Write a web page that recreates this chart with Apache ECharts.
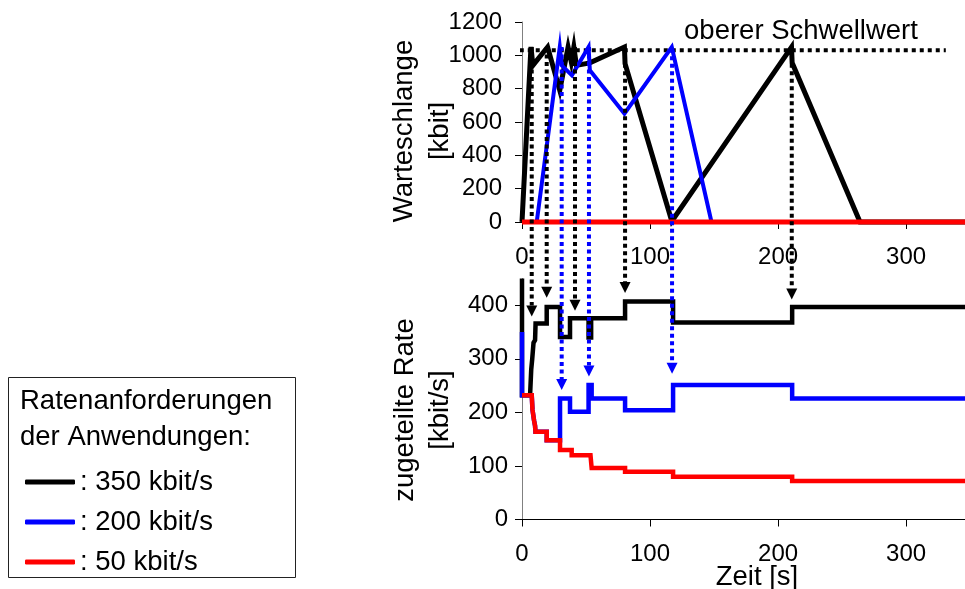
<!DOCTYPE html>
<html>
<head>
<meta charset="utf-8">
<title>Warteschlange und zugeteilte Rate</title>
<script src="https://cdn.jsdelivr.net/npm/echarts@6/dist/echarts.min.js"></script>
<style>
  html, body { margin: 0; padding: 0; background: #fff; }
  #main { width: 965px; height: 589px; }
</style>
</head>
<body>
<div id="main"></div>
<script>
var FONT = '"Liberation Sans", Arial, sans-serif';

// Legende / Farben
var seriesNames = [': 350 kbit/s', ': 200 kbit/s', ': 50 kbit/s'];
var seriesColors = ['#000000', '#0000ff', '#ff0000'];

// Warteschlange [kbit], Punkte [Zeit s, Wert]
var queue350 = [[0, 0], [7, 1050], [8.5, 940], [20, 1050], [29.5, 790], [36, 1050], [38.5, 960], [40.5, 1050],
  [42.5, 940], [53, 955], [80, 1050], [80.5, 950], [117, 5], [210.5, 1050], [211, 955], [264, 0], [346, 0]];
var queue200 = [[11.5, 0], [29.5, 1050], [31, 940], [39, 880], [52, 1050], [53, 910], [80, 650], [117, 1050], [148, 0]];
var queue50 = [[0, 0], [346, 0]];
var threshold = [[-8, 1030], [331, 1030]];

// zugeteilte Rate [kbit/s]
var rate350 = [[0, 450], [0, 232], [6.3, 232], [7.2, 280], [8, 300], [9, 330], [10.2, 335], [10.6, 366], [19.3, 366],
  [19.3, 397], [29.7, 397], [29.7, 341], [37.5, 341], [37.5, 376], [52, 376], [52, 340], [54, 340], [54, 376],
  [80.5, 376], [80.5, 407], [118, 407], [118, 368], [211, 368], [211, 397], [346, 397]];
var rate200 = [[0, 350], [0, 232], [7.6, 232], [8.2, 205], [9.4, 185], [10.2, 175], [10.5, 164], [19.3, 164],
  [19.3, 148], [29.7, 148], [29.7, 226], [37.5, 226], [37.5, 201], [52, 201], [52, 251], [54.4, 251], [54.4, 226],
  [80.5, 226], [80.5, 204], [118, 204], [118, 251], [211, 251], [211, 226], [346, 226]];
var rate50 = [[0, 232], [7.6, 232], [8.2, 205], [9.4, 185], [10.2, 175], [10.5, 164], [19.3, 164], [19.3, 148],
  [29.7, 148], [29.7, 130], [38.8, 130], [38.8, 120], [53.5, 120], [54.4, 96], [80.5, 96], [80.5, 89], [118, 89],
  [118, 80], [211, 80], [211, 72], [346, 72]];

// Pfeile von der Warteschlange zur Rate: Zeitpunkt, Start (kbit), Spitze (kbit/s)
var arrowT350 = [7.6, 19.3, 41.4, 80.5, 210.7];
var arrowQ350 = [1050, 1050, 1050, 950, 950];
var arrowR350 = [379, 414, 390, 423, 411];
var arrowT200 = [31, 52.3, 117.2];
var arrowQ200 = [1050, 1050, 1040];
var arrowR200 = [242, 267, 272];

function valueAxis(gridIndex, max, interval, margin) {
  return {
    type: 'value', gridIndex: gridIndex, min: 0, max: max, interval: interval,
    axisLine: { show: true, lineStyle: { color: '#808080', width: 1 } },
    axisTick: { show: true, length: 7, lineStyle: { color: '#000' } },
    axisLabel: {
      color: '#000', fontSize: 24, fontFamily: FONT, margin: margin, showMaxLabel: max % interval === 0,
      formatter: function (v) { return String(v); }
    },
    splitLine: { show: false }
  };
}

function timeAxis(gridIndex) {
  return {
    type: 'value', gridIndex: gridIndex, min: 0, max: 346, interval: 100,
    axisLine: { show: true, onZero: false, lineStyle: { color: '#000', width: 1 } },
    axisTick: { show: true, length: 7, lineStyle: { color: '#000' } },
    axisLabel: { color: '#000', fontSize: 24, fontFamily: FONT, margin: 23, showMaxLabel: false },
    splitLine: { show: false }
  };
}

function lineSeries(name, data, idx, gridIndex, width) {
  return {
    name: name, type: 'line', data: data,
    xAxisIndex: gridIndex, yAxisIndex: gridIndex,
    showSymbol: false, symbol: 'none', animation: false, clip: false,
    color: seriesColors[idx],
    lineStyle: { color: seriesColors[idx], width: width, join: 'miter', cap: 'butt' },
    z: 3 + idx
  };
}

function text(id, str, x, y, opts) {
  var el = {
    type: 'text', id: id, x: x, y: y, z: 20,
    style: { text: str, fill: '#000', font: '27.5px ' + FONT, textAlign: 'center', textVerticalAlign: 'middle' }
  };
  if (opts && opts.rotate) el.rotation = Math.PI / 2;
  if (opts && opts.left) el.style.textAlign = 'left';
  return el;
}

var chart = echarts.init(document.getElementById('main'), null, { renderer: 'canvas' });

var option = {
  backgroundColor: '#fff',
  animation: false,
  textStyle: { fontFamily: FONT },
  grid: [
    { left: 522, top: 22, width: 443, height: 200 },
    { left: 522, top: 278.5, width: 443, height: 241 }
  ],
  xAxis: [timeAxis(0), timeAxis(1)],
  yAxis: [valueAxis(0, 1200, 200, 20), valueAxis(1, 450, 100, 14)],
  legend: {
    data: seriesNames,
    orient: 'vertical', left: 20, top: 457, itemGap: 0,
    icon: 'roundRect', itemWidth: 50, itemHeight: 5,
    textStyle: { color: '#000', fontSize: 27.5, fontFamily: FONT, lineHeight: 40 },
    selectedMode: false
  },
  series: [
    lineSeries(seriesNames[0], queue350, 0, 0, 5),
    lineSeries(seriesNames[1], queue200, 1, 0, 4),
    lineSeries(seriesNames[2], queue50, 2, 0, 5),
    {
      name: 'Schwellwert', type: 'line', data: threshold, xAxisIndex: 0, yAxisIndex: 0,
      showSymbol: false, symbol: 'none', clip: false, z: 2,
      lineStyle: { color: '#000', width: 4, type: [4, 4], cap: 'butt' }
    },
    lineSeries(seriesNames[0], rate350, 0, 1, 4.5),
    lineSeries(seriesNames[1], rate200, 1, 1, 4.5),
    lineSeries(seriesNames[2], rate50, 2, 1, 4.5)
  ],
  graphic: [
    { type: 'rect', id: 'legendBox', shape: { x: 8.5, y: 377.5, width: 287, height: 200 },
      style: { fill: 'none', stroke: '#222', lineWidth: 1 }, z: 1 },
    text('lt1', 'Ratenanforderungen', 20, 401, { left: true }),
    text('lt2', 'der Anwendungen:', 20, 437, { left: true }),
    text('yq1', 'Warteschlange', 404, 131, { rotate: true }),
    text('yq2', '[kbit]', 440, 131, { rotate: true }),
    text('yr1', 'zugeteilte Rate', 405, 410, { rotate: true }),
    text('yr2', '[kbit/s]', 440, 410, { rotate: true }),
    text('xt', 'Zeit [s]', 757, 577),
    text('thr', 'oberer Schwellwert', 801, 31)
  ]
};
chart.setOption(option);

// Pfeile zwischen beiden Diagrammen über die Achsen der Diagramme platzieren
function buildArrows(prefix, ts, qs, rs, color) {
  var els = [];
  for (var i = 0; i < ts.length; i++) {
    var p0 = chart.convertToPixel({ gridIndex: 0 }, [ts[i], qs[i]]);
    var p1 = chart.convertToPixel({ gridIndex: 1 }, [ts[i], rs[i]]);
    var head = 11;
    els.push({
      type: 'line', id: prefix + 'l' + i, z: 10,
      shape: { x1: p0[0], y1: p0[1], x2: p1[0], y2: p1[1] - head },
      style: { stroke: color, lineWidth: 4, lineDash: [4, 3.5] }
    });
    els.push({
      type: 'polygon', id: prefix + 'h' + i, z: 10,
      shape: { points: [[p1[0] - 5.5, p1[1] - head], [p1[0] + 5.5, p1[1] - head], [p1[0], p1[1]]] },
      style: { fill: color }
    });
  }
  return els;
}

var arrows = buildArrows('a350', arrowT350, arrowQ350, arrowR350, '#000')
  .concat(buildArrows('a200', arrowT200, arrowQ200, arrowR200, '#0000ff'));
chart.setOption({ graphic: arrows });
</script>
</body>
</html>
